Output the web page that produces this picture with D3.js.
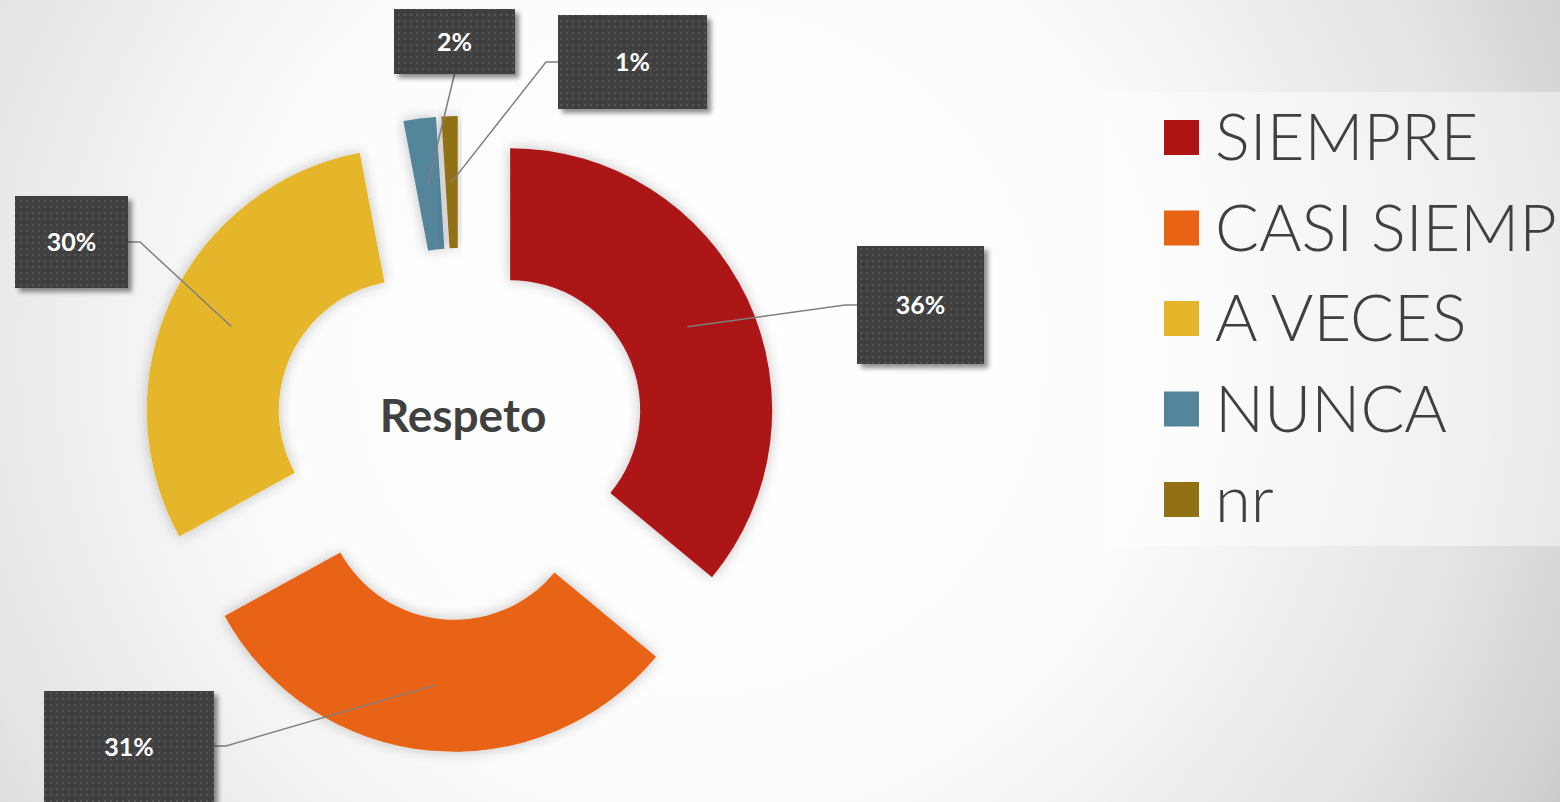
<!DOCTYPE html>
<html>
<head>
<meta charset="utf-8">
<script src="https://cdn.jsdelivr.net/npm/d3@7"></script>
<style>
  html, body { margin: 0; padding: 0; overflow: hidden; }
  svg { display: block; }
</style>
</head>
<body>
<div id="chart"></div>
<script>
// Donut: Respeto
const categories = ["SIEMPRE", "CASI SIEMPRE", "A VECES", "NUNCA", "nr"];
const values = [36, 31, 30, 2, 1];
const colors = ["#AD1414", "#E86313", "#E6B62A", "#55859B", "#927014"];
const title = "Respeto";

// label box layout (one per slice)
const labelBoxes = [
    { x: 857, y: 246, w: 127, h: 118, side: "left", ay: 305 },
    { x: 44, y: 691, w: 170, h: 125, side: "right", ay: 746 },
    { x: 15, y: 196, w: 113, h: 92, side: "right", ay: 242 },
    { x: 394, y: 9, w: 121, h: 65, side: "bottom" },
    { x: 558, y: 15, w: 149, h: 94, side: "left", ay: 62 }
];

const width = 1560, height = 802;
const cx = 459.5, cy = 434;
const outerR = 262, innerR = 130, explode = 56;

const svg = d3.select("#chart").append("svg")
    .attr("width", width)
    .attr("height", height);

const defs = svg.append("defs");

const bg = defs.append("radialGradient")
    .attr("id", "bg")
    .attr("gradientUnits", "userSpaceOnUse")
    .attr("cx", 700).attr("cy", 350).attr("r", 1000);
bg.append("stop").attr("offset", 0).attr("stop-color", "#ffffff");
bg.append("stop").attr("offset", 0.45).attr("stop-color", "#fcfcfc");
bg.append("stop").attr("offset", 0.78).attr("stop-color", "#e4e4e4");
bg.append("stop").attr("offset", 0.93).attr("stop-color", "#d2d2d2");
bg.append("stop").attr("offset", 1).attr("stop-color", "#c6c6c6");

const dots = defs.append("pattern")
    .attr("id", "dots")
    .attr("patternUnits", "userSpaceOnUse")
    .attr("width", 6).attr("height", 6);
dots.append("rect").attr("width", 6).attr("height", 6).attr("fill", "#404040");
dots.append("rect").attr("x", 2).attr("y", 2).attr("width", 2).attr("height", 2).attr("fill", "#555555");

const glow = defs.append("filter").attr("id", "glow")
    .attr("x", "-20%").attr("y", "-20%").attr("width", "140%").attr("height", "140%");
glow.append("feDropShadow").attr("dx", 0).attr("dy", 0)
    .attr("stdDeviation", 7).attr("flood-color", "#000").attr("flood-opacity", 0.24);

const boxShadow = defs.append("filter").attr("id", "boxShadow")
    .attr("x", "-20%").attr("y", "-20%").attr("width", "140%").attr("height", "140%");
boxShadow.append("feDropShadow").attr("dx", 4).attr("dy", 4)
    .attr("stdDeviation", 2.5).attr("flood-color", "#000").attr("flood-opacity", 0.45);

svg.append("rect")
    .attr("width", width).attr("height", height)
    .attr("fill", "url(#bg)");

// donut
const pie = d3.pie().sort(null).value(d => d)(values);
const arc = d3.arc().innerRadius(innerR).outerRadius(outerR);

const offset = d => {
    const mid = (d.startAngle + d.endAngle) / 2;
    return [explode * Math.sin(mid), -explode * Math.cos(mid)];
};

const g = svg.append("g").attr("transform", `translate(${cx},${cy})`);

g.selectAll("path.slice")
    .data(pie)
    .enter().append("path")
    .attr("class", "slice")
    .attr("transform", d => `translate(${offset(d)})`)
    .attr("d", arc)
    .attr("fill", (d, i) => colors[i])
    .attr("filter", "url(#glow)");

// leader lines
const leaderPts = (d, i) => {
    const o = offset(d);
    const c = arc.centroid(d);
    const start = [cx + c[0] + o[0], cy + c[1] + o[1]];
    const b = labelBoxes[i];
    if (b.side === "left") return [start, [b.x - 12, b.ay], [b.x, b.ay]];
    if (b.side === "right") return [start, [b.x + b.w + 12, b.ay], [b.x + b.w, b.ay]];
    return [start, [b.x + b.w / 2, b.y + b.h]];
};

svg.selectAll("path.leader")
    .data(pie)
    .enter().append("path")
    .attr("class", "leader")
    .attr("d", (d, i) => d3.line()(leaderPts(d, i)))
    .attr("fill", "none")
    .attr("stroke", "#7f7f7f")
    .attr("stroke-width", 1.5);

// label boxes
const lbl = svg.selectAll("g.lbl")
    .data(pie)
    .enter().append("g")
    .attr("class", "lbl");

lbl.append("rect")
    .attr("x", (d, i) => labelBoxes[i].x)
    .attr("y", (d, i) => labelBoxes[i].y)
    .attr("width", (d, i) => labelBoxes[i].w)
    .attr("height", (d, i) => labelBoxes[i].h)
    .attr("fill", "url(#dots)")
    .attr("filter", "url(#boxShadow)");

lbl.append("text")
    .attr("x", (d, i) => labelBoxes[i].x + labelBoxes[i].w / 2)
    .attr("y", (d, i) => i === 1 ? 747 : labelBoxes[i].y + labelBoxes[i].h / 2)
    .attr("dy", "0.36em")
    .attr("text-anchor", "middle")
    .attr("fill", "#ffffff")
    .style("font-family", "Lato, 'Open Sans', sans-serif")
    .style("font-weight", "bold")
    .style("font-size", "25px")
    .text(d => d3.format(".0%")(d.value / d3.sum(values)));

// centre title
svg.append("text")
    .attr("x", 463)
    .attr("y", 432)
    .attr("text-anchor", "middle")
    .attr("fill", "#404040")
    .style("font-family", "Lato, 'Open Sans', sans-serif")
    .style("font-weight", "bold")
    .style("font-size", "46px")
    .text(title);

// legend
svg.append("rect")
    .attr("x", 1103).attr("y", 92)
    .attr("width", 457).attr("height", 454)
    .attr("fill", "#ffffff")
    .attr("opacity", 0.45);

const legend = svg.selectAll("g.legend")
    .data(categories)
    .enter().append("g")
    .attr("class", "legend")
    .attr("transform", (d, i) => `translate(1164,${120 + i * 90.5})`);

legend.append("rect")
    .attr("width", 35).attr("height", 35)
    .attr("fill", (d, i) => colors[i]);

legend.append("text")
    .attr("x", 51)
    .attr("y", 40)
    .attr("fill", "#404040")
    .style("font-family", "Lato, 'Open Sans', sans-serif")
    .style("font-weight", 300)
    .style("font-size", "65px")
    .text(d => d);
</script>
</body>
</html>
